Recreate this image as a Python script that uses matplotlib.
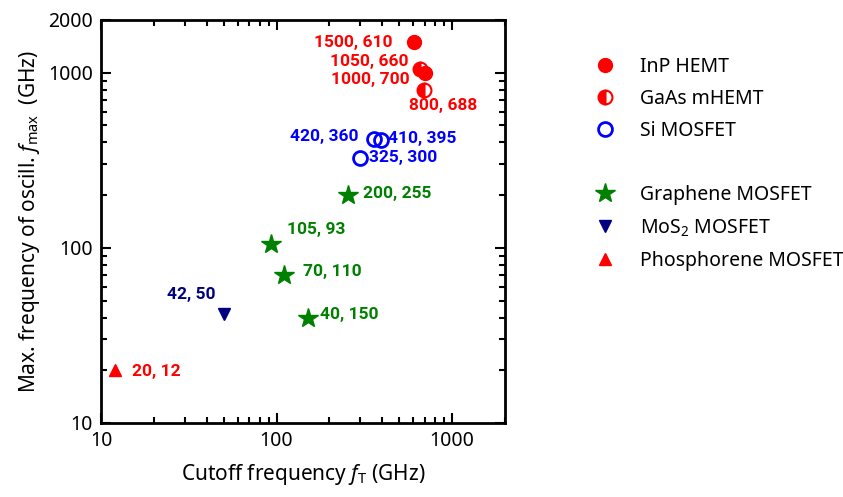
import matplotlib
matplotlib.use("Agg")
import matplotlib.pyplot as plt
from matplotlib.lines import Line2D

plt.rcParams['font.family'] = ['Noto Sans', 'DejaVu Sans']
plt.rcParams['mathtext.fontset'] = 'custom'
plt.rcParams['mathtext.rm'] = 'Noto Sans'
plt.rcParams['mathtext.it'] = 'Noto Sans:italic'

# cutoff frequency fT and max. frequency fmax, both in GHz
inp_ft = [610, 700]
inp_fmax = [1500, 1000]
gaas_ft = [660, 688]
gaas_fmax = [1050, 800]
si_ft = [360, 395, 300]
si_fmax = [420, 410, 325]
graphene_ft = [255, 93, 110, 150]
graphene_fmax = [200, 105, 70, 40]
mos2_ft = [50]
mos2_fmax = [42]
phos_ft = [12]
phos_fmax = [20]

RED = '#ff0000'
BLUE = '#0000ff'
GREEN = '#008000'
NAVY = '#000080'


def label_points(ax, xs, ys, offsets, color):
    # offsets are (dx, dy, ha) in pixels relative to the marker
    for x, y, (dx, dy, ha) in zip(xs, ys, offsets):
        ax.annotate(f"{y}, {x}", (x, y), xytext=(dx, dy),
                    textcoords='offset pixels', ha=ha, va='center',
                    color=color, fontsize=12.5, fontweight='bold',
                    family=['Roboto', 'DejaVu Sans'])


def main():
    fig = plt.figure(figsize=(8.43, 4.97), dpi=100)
    ax = fig.add_axes([0.1198, 0.1489, 0.4793, 0.811])

    ax.plot(gaas_ft, gaas_fmax, 'o', ms=10, color=RED, fillstyle='left',
            markerfacecoloralt='white', mec=RED, mew=1.5, ls='none')
    ax.plot(inp_ft, inp_fmax, 'o', ms=10, color=RED, ls='none')
    ax.plot(si_ft, si_fmax, 'o', ms=10, mfc='none', mec=BLUE, mew=2, ls='none')
    ax.plot(graphene_ft, graphene_fmax, '*', ms=15, color=GREEN, ls='none')
    ax.plot(mos2_ft, mos2_fmax, 'v', ms=9, color=NAVY, ls='none')
    ax.plot(phos_ft, phos_fmax, '^', ms=9, color=RED, ls='none')

    label_points(ax, inp_ft, inp_fmax, [(-22, -1, 'right'), (-15, -7, 'right')], RED)
    label_points(ax, gaas_ft, gaas_fmax, [(-12, 7, 'right'), (-15, -16, 'left')], RED)
    label_points(ax, si_ft, si_fmax,
                 [(-16, 2, 'right'), (7, 2, 'left'), (9, 1, 'left')], BLUE)
    label_points(ax, graphene_ft, graphene_fmax,
                 [(15, 2, 'left'), (16, 15, 'left'), (19, 3, 'left'), (12, 3, 'left')], GREEN)
    label_points(ax, mos2_ft, mos2_fmax, [(-8, 19, 'right')], NAVY)
    label_points(ax, phos_ft, phos_fmax, [(17, -1, 'left')], RED)

    ax.set_xscale('log')
    ax.set_yscale('log')
    ax.set_xlim(10, 2000)
    ax.set_ylim(10, 2000)
    ax.set_xticks([10, 100, 1000])
    ax.set_xticklabels(['10', '100', '1000'])
    ax.set_yticks([10, 100, 1000, 2000])
    ax.set_yticklabels(['10', '100', '1000', '2000'])
    ax.tick_params(which='both', direction='in', top=True, right=True,
                   labelsize=14, width=1.5, pad=6)
    ax.tick_params(which='major', length=7)
    ax.tick_params(which='minor', length=4)
    for s in ax.spines.values():
        s.set_linewidth(2)

    ax.set_xlabel('Cutoff frequency $f_{\\mathrm{T}}$ (GHz)', fontsize=15, labelpad=8)
    ax.set_ylabel('Max. frequency of oscill. $f_{\\mathrm{max}}$  (GHz)', fontsize=15, labelpad=4)

    handles = [
        Line2D([], [], marker='o', ms=10, color=RED, ls='none'),
        Line2D([], [], marker='o', ms=10, color=RED, fillstyle='left',
               markerfacecoloralt='white', mec=RED, mew=1.5, ls='none'),
        Line2D([], [], marker='o', ms=10, mfc='none', mec=BLUE, mew=2, ls='none'),
        Line2D([], [], ls='none'),
        Line2D([], [], marker='*', ms=15, color=GREEN, ls='none'),
        Line2D([], [], marker='v', ms=9, color=NAVY, ls='none'),
        Line2D([], [], marker='^', ms=9, color=RED, ls='none'),
    ]
    names = ['InP HEMT', 'GaAs mHEMT', 'Si MOSFET', ' ',
             'Graphene MOSFET', 'MoS$_2$ MOSFET', 'Phosphorene MOSFET']
    fig.legend(handles, names, loc='upper left', bbox_to_anchor=(0.695, 0.905),
               frameon=False, fontsize=14, handlelength=1.0, handletextpad=1.3,
               labelspacing=0.62, borderpad=0)

    fig.savefig('out.png', dpi=100)


if __name__ == '__main__':
    main()
